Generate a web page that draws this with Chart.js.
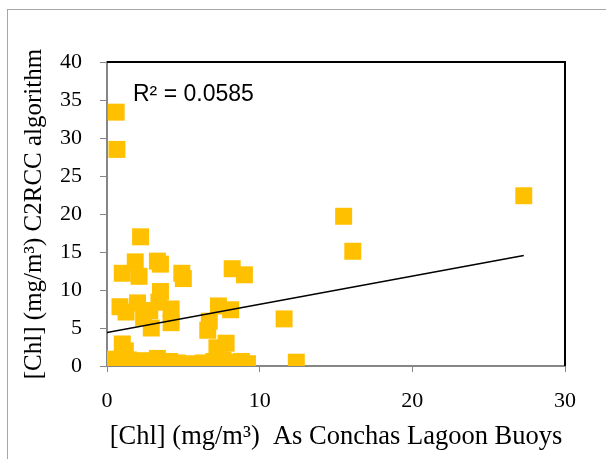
<!DOCTYPE html>
<html>
<head>
<meta charset="utf-8">
<script src="https://cdn.jsdelivr.net/npm/chart.js@4.4.1/dist/chart.umd.min.js"></script>
<style>
  html, body { margin: 0; padding: 0; background: #fff; }
  #wrap { position: relative; width: 606px; height: 459px; overflow: hidden; }
  #frame { position: absolute; left: 7px; top: 9px; width: 640px; height: 500px; border: 1px solid #a6a6a6; }
  #myChart { position: absolute; left: 0; top: 0; }
</style>
</head>
<body>
<div id="wrap">
  <div id="frame"></div>
  <canvas id="myChart" width="606" height="459"></canvas>
</div>
<script>
// buoy measurements (x) against C2RCC retrievals (y)
const buoyChl = [
  0.6, 0.65, 27.3, 15.5, 16.1, 2.2, 1.0, 1.85, 2.1, 3.3,
  3.5, 4.9, 5.0, 3.5, 0.85, 1.25, 2.0, 2.4, 2.9, 3.4,
  4.2, 4.2, 6.6, 6.7, 7.3, 8.1, 8.2, 9.0, 11.6, 12.4,
  7.2, 7.8, 1.0, 1.2, 6.3, 8.4, 8.8, 9.2, 0.1, 0.4,
  0.7, 1.0, 1.4, 1.8, 2.2, 2.6, 3.0, 3.3, 3.7, 4.1,
  4.6, 5.2, 5.6, 7.0, 7.6, 2.8, 1.6, 4.4, 6.0, 8.0
];
const c2rccChl = [
  33.4, 28.5, 22.4, 19.7, 15.1, 17.0, 12.2, 13.7, 11.8, 13.8,
  13.4, 12.2, 11.5, 9.8, 7.8, 7.1, 8.3, 6.4, 5.0, 8.4,
  7.5, 5.7, 4.7, 5.9, 7.9, 7.4, 12.8, 12.0, 6.2, 0.5,
  2.4, 3.0, 2.9, 2.0, 0.4, 0.5, 0.6, 0.3, 0.9, 0.3,
  0.6, 0.2, 0.8, 0.4, 0.7, 0.2, 0.5, 1.0, 0.3, 0.6,
  0.4, 0.2, 0.3, 0.6, 0.8, 7.3, 0.1, 0.1, 0.2, 0.3
];

// linear trend ends
const trendX = [0, 27.3];
const trendY = [4.4, 14.55];
const rSquared = '0.0585';

const xTicks = [0, 10, 20, 30];
const yTicks = [0, 5, 10, 15, 20, 25, 30, 35, 40];

const axisGray = '#868686';
const serif = "'Liberation Serif', 'Times New Roman', serif";

const points = buoyChl.map((x, i) => ({ x: x, y: c2rccChl[i] }));
const trend = trendX.map((x, i) => ({ x: x, y: trendY[i] }));

// black top/right edges of the plot box plus the R² label
const plotExtras = {
  id: 'plotExtras',
  afterDraw(chart) {
    const ctx = chart.ctx;
    const a = chart.chartArea;
    ctx.save();
    ctx.strokeStyle = '#000';
    ctx.lineWidth = 2;
    ctx.beginPath();
    ctx.moveTo(a.left, a.top);
    ctx.lineTo(a.right, a.top);
    ctx.lineTo(a.right, a.bottom);
    ctx.stroke();
    ctx.fillStyle = '#000';
    ctx.font = "23px 'Liberation Sans', Arial, sans-serif";
    ctx.textBaseline = 'alphabetic';
    ctx.fillText('R² = ' + rSquared, a.left + 26, a.top + 39);
    ctx.restore();
  }
};

const config = {
  type: 'scatter',
  data: {
    datasets: [{
      label: 'C2RCC',
      data: points,
      pointStyle: 'rect',
      radius: 12,
      hoverRadius: 12,
      backgroundColor: '#FFC000',
      borderWidth: 0,
      order: 2
    }, {
      type: 'line',
      label: 'Trend',
      data: trend,
      borderColor: '#000',
      borderWidth: 1.5,
      pointRadius: 0,
      fill: false,
      order: 1
    }]
  },
  options: {
    responsive: false,
    animation: false,
    layout: {
      padding: { top: 62, right: 41, left: 0, bottom: 0 }
    },
    scales: {
      x: {
        type: 'linear',
        min: 0,
        max: 30,
        afterBuildTicks: (scale) => { scale.ticks = xTicks.map(v => ({ value: v })); },
        afterFit: (scale) => { scale.height = 93; },
        border: { color: axisGray, width: 2 },
        grid: { drawOnChartArea: false, drawTicks: true, tickLength: 6, color: axisGray },
        ticks: { color: '#000', font: { family: serif, size: 22 }, padding: 16 },
        title: {
          display: true,
          text: '[Chl] (mg/m³)  As Conchas Lagoon Buoys',
          color: '#000',
          font: { family: serif, size: 26.5 },
          padding: { top: 0, bottom: 6 }
        }
      },
      y: {
        type: 'linear',
        min: 0,
        max: 40,
        afterBuildTicks: (scale) => { scale.ticks = yTicks.map(v => ({ value: v })); },
        afterFit: (scale) => { scale.width = 107; },
        border: { color: axisGray, width: 2 },
        grid: { drawOnChartArea: false, drawTicks: true, tickLength: 7, color: axisGray },
        ticks: { color: '#000', font: { family: serif, size: 22 }, padding: 18 },
        title: {
          display: true,
          text: '[Chl] (mg/m³) C2RCC algorithm',
          color: '#000',
          font: { family: serif, size: 25 },
          padding: { top: 19, bottom: 0 }
        }
      }
    },
    plugins: {
      legend: { display: false },
      tooltip: { enabled: false }
    }
  },
  plugins: [plotExtras]
};

var myChart = new Chart(document.getElementById('myChart'), config);
</script>
</body>
</html>
